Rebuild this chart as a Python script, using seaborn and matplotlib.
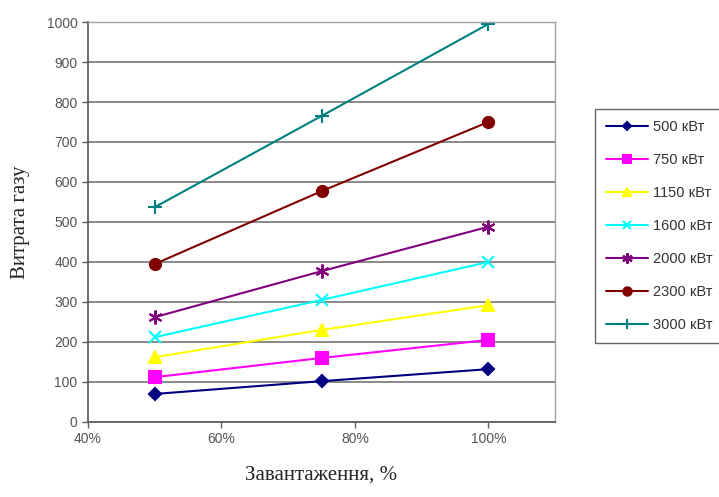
import matplotlib
matplotlib.use("Agg")
import matplotlib.pyplot as plt
import seaborn as sns
import pandas as pd
from matplotlib.ticker import FuncFormatter, MultipleLocator

load_pct = [50, 75, 100]
series_names = ["500 кВт", "750 кВт", "1150 кВт", "1600 кВт", "2000 кВт", "2300 кВт", "3000 кВт"]
v500 = [70, 102, 132]
v750 = [112, 160, 205]
v1150 = [162, 230, 292]
v1600 = [212, 305, 400]
v2000 = [262, 377, 488]
v2300 = [395, 577, 750]
v3000 = [537, 765, 995]
all_values = [v500, v750, v1150, v1600, v2000, v2300, v3000]

colors = ["#000080", "#FF00FF", "#FFFF00", "#00FFFF", "#800080", "#800000", "#008080"]
markers = ["D", "s", "^", "x", (6, 2, 0), "o", "+"]
msizes = [6, 8, 8, 8, 10, 8, 10]

rows = []
for name, vals in zip(series_names, all_values):
    for x, v in zip(load_pct, vals):
        rows.append({"load": x, "gas": v, "series": name})
df = pd.DataFrame(rows)

sns.set_style("white")
plt.rcParams['font.family'] = ['Liberation Sans', 'DejaVu Sans']

fig = plt.figure(figsize=(7.19, 4.97), dpi=100)
ax = fig.add_axes([0.1224, 0.151, 0.772 - 0.1224, 0.9557 - 0.151])

for name, c, m, ms in zip(series_names, colors, markers, msizes):
    sub = df[df["series"] == name]
    sns.lineplot(data=sub, x="load", y="gas", ax=ax, color=c, marker=m,
                 markersize=ms, markeredgecolor=c, markeredgewidth=1.5,
                 linewidth=1.5, label=name)

ax.set_xlim(40, 110)
ax.set_ylim(0, 1000)
ax.set_xticks([40, 60, 80, 100])
ax.xaxis.set_major_formatter(FuncFormatter(lambda v, p: f"{int(v)}%"))
ax.yaxis.set_major_locator(MultipleLocator(100))
ax.grid(axis="y", color="#808080", linewidth=1.3)
ax.grid(axis="x", visible=False)
for s in ["top", "right"]:
    ax.spines[s].set_color("#a0a0a0")
    ax.spines[s].set_linewidth(1.0)
for s in ["left", "bottom"]:
    ax.spines[s].set_color("#606060")
    ax.spines[s].set_linewidth(1.3)
ax.tick_params(axis="both", direction="out", length=4, width=1, color="#606060",
               labelsize=10, labelcolor="#555555", left=True, bottom=True)

ax.set_xlabel("Завантаження, %", fontsize=15, family=["Liberation Serif", "DejaVu Serif"], labelpad=14)
ax.set_ylabel("Витрата газу", fontsize=15, family=["Liberation Serif", "DejaVu Serif"], labelpad=12)

ax.legend_.remove()
handles, labels = ax.get_legend_handles_labels()
leg = fig.legend(handles, labels, loc="upper left", bbox_to_anchor=(0.8275, 0.7807),
                 frameon=True, fancybox=False, fontsize=10.5, labelspacing=1.3,
                 handlelength=2.9, borderpad=0.75, handletextpad=0.35,
                 markerscale=0.75, borderaxespad=0)
leg.get_frame().set_edgecolor("#404040")
leg.get_frame().set_linewidth(1.0)
for t in leg.get_texts():
    t.set_color("#333333")

fig.savefig("out.png", dpi=100)
